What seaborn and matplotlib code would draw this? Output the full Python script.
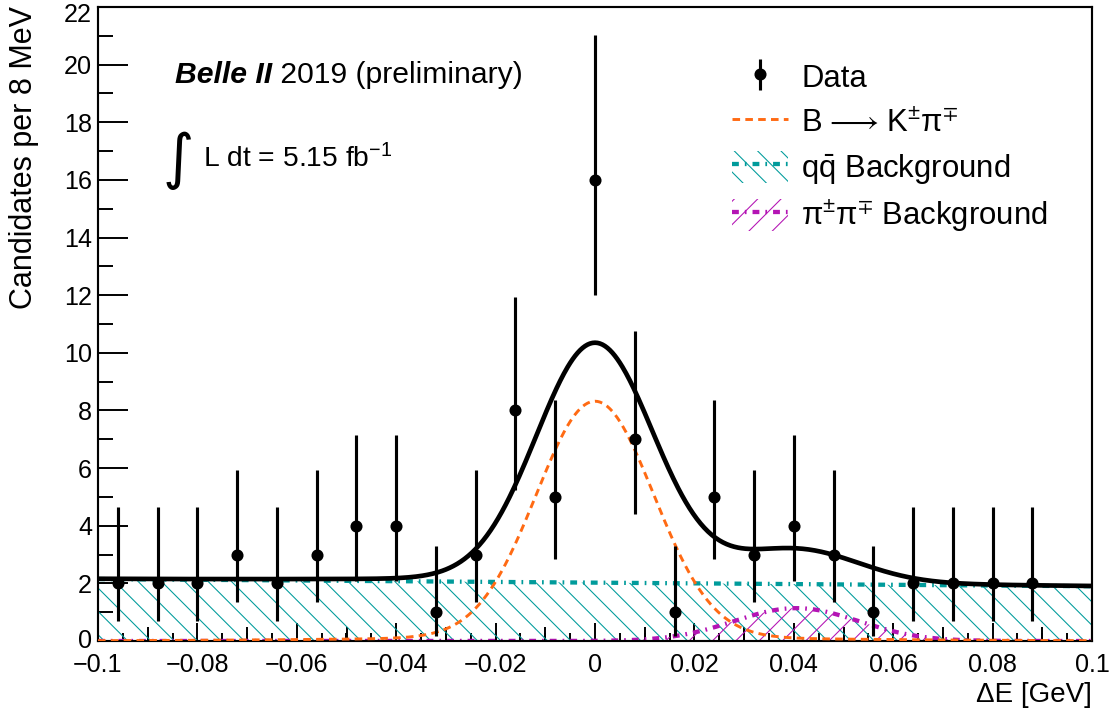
import numpy as np
import pandas as pd
import matplotlib
matplotlib.use("Agg")
import matplotlib.pyplot as plt
import matplotlib.transforms as mtransforms
import seaborn as sns
from matplotlib.patches import Patch
from matplotlib.lines import Line2D
from matplotlib.legend_handler import HandlerTuple
from matplotlib.ticker import MultipleLocator, FuncFormatter, NullFormatter

# ---------------- data ----------------
bin_centers = [-0.096, -0.088, -0.080, -0.072, -0.064, -0.056, -0.048, -0.040,
               -0.032, -0.024, -0.016, -0.008, 0.000, 0.008, 0.016, 0.024,
               0.032, 0.040, 0.048, 0.056, 0.064, 0.072, 0.080, 0.088]
counts = [2, 2, 2, 3, 2, 3, 4, 4, 1, 3, 8, 5, 16, 7, 1, 5, 3, 4, 3, 1, 2, 2, 2, 2]
err_low = [1.29, 1.29, 1.29, 1.63, 1.29, 1.63, 1.91, 1.91, 0.83, 1.63, 2.77, 2.16,
           3.99, 2.58, 0.83, 2.16, 1.63, 1.91, 1.63, 0.83, 1.29, 1.29, 1.29, 1.29]
err_high = [2.64, 2.64, 2.64, 2.92, 2.64, 2.92, 3.16, 3.16, 2.30, 2.92, 3.94, 3.38,
            5.03, 3.77, 2.30, 3.38, 2.92, 3.16, 2.92, 2.30, 2.64, 2.64, 2.64, 2.64]

# fit-component parameters
sig_core = [8.2, 0.0, 0.0118]     # amplitude, mean, sigma
sig_tail = [0.12, 0.0, 0.045]
pipi_par = [1.14, 0.0405, 0.0125]
qq_par = [2.025, -1.25]            # value at 0, slope

x_ticks = [-0.1, -0.08, -0.06, -0.04, -0.02, 0.0, 0.02, 0.04, 0.06, 0.08, 0.1]
x_mid_ticks = [-0.09, -0.07, -0.05, -0.03, -0.01, 0.01, 0.03, 0.05, 0.07, 0.09]
y_ticks = list(range(0, 23, 2))

# ---------------- model curves ----------------
def gauss(x, p):
    return p[0] * np.exp(-0.5 * ((x - p[1]) / p[2]) ** 2)

xx = np.linspace(-0.1, 0.1, 801)
sig = gauss(xx, sig_core) + gauss(xx, sig_tail)
pipi = gauss(xx, pipi_par)
qq = qq_par[0] + qq_par[1] * xx
tot = sig + pipi + qq
curves = pd.DataFrame({"x": xx, "sig": sig, "pipi": pipi, "qq": qq, "tot": tot})

# ---------------- style ----------------
sns.set_theme(style="ticks")
plt.rcParams["font.family"] = ["Liberation Sans", "DejaVu Sans"]
plt.rcParams["mathtext.fontset"] = "custom"
plt.rcParams["mathtext.rm"] = "Liberation Sans"
plt.rcParams["mathtext.it"] = "Liberation Sans:italic"
plt.rcParams["mathtext.bf"] = "Liberation Sans:bold"
plt.rcParams["mathtext.fallback"] = "stixsans"
plt.rcParams["hatch.linewidth"] = 0.55
plt.rcParams["text.color"] = "black"
plt.rcParams["axes.labelcolor"] = "black"

DPI = 140
fig = plt.figure(figsize=(1115 / DPI, 713 / DPI), dpi=DPI)
ax = fig.add_axes([98 / 1115, 1 - 641 / 713, (1092 - 98) / 1115, (641 - 7) / 713])

teal = "#009b9b"
mag = "#b414b4"
orange = "#ff6a13"

ax.fill_between(curves["x"], 0, curves["qq"], facecolor="none", edgecolor=teal,
                hatch="\\\\", linewidth=0, zorder=1)
ax.fill_between(curves["x"], 0, curves["pipi"], facecolor="none", edgecolor=mag,
                hatch="//", linewidth=0, zorder=1.2)

qq_dash = (1.6, 1.4, 0.4, 1.4)
sns.lineplot(data=curves, x="x", y="qq", ax=ax, color=teal, lw=2.2, zorder=2)
ax.lines[-1].set_dashes(qq_dash)
sns.lineplot(data=curves, x="x", y="pipi", ax=ax, color=mag, lw=2.2, zorder=2)
ax.lines[-1].set_dashes(qq_dash)
sns.lineplot(data=curves, x="x", y="sig", ax=ax, color=orange, lw=1.5, zorder=3)
ax.lines[-1].set_dashes((2.6, 1.8))
sns.lineplot(data=curves, x="x", y="tot", ax=ax, color="black", lw=2.4, zorder=4)

eb = ax.errorbar(bin_centers, counts, yerr=[err_low, err_high], fmt="o",
                 color="black", ms=5.2, elinewidth=1.6, capsize=0, zorder=5)

# ---------------- axes ----------------
ax.set_xlim(-0.1, 0.1)
ax.set_ylim(0, 22)
ax.xaxis.set_minor_locator(MultipleLocator(0.005))
ax.yaxis.set_minor_locator(MultipleLocator(1))
ax.set_xticks(x_ticks)
ax.set_yticks(y_ticks)

def xfmt(v, p):
    v = round(v, 4)
    if abs(v) < 1e-9:
        return "0"
    return f"{v:g}".replace("-", "\u2212")

ax.xaxis.set_major_formatter(FuncFormatter(xfmt))
ax.tick_params(axis="both", which="both", direction="in", labelsize=12.9,
               colors="black", labelcolor="black")
ax.tick_params(axis="x", which="major", length=9.3, width=1.0, pad=6)
ax.tick_params(axis="x", which="minor", length=4.3, width=1.0)
ax.tick_params(axis="y", which="major", length=15.4, width=1.0, pad=3)
ax.tick_params(axis="y", which="minor", length=7.7, width=1.0)
for s in ax.spines.values():
    s.set_linewidth(1.1)
    s.set_color("black")

# keep the top y label inside the figure and the bottom one clear of the x labels
ymaj = ax.yaxis.get_major_ticks()
top_lab = ymaj[-1].label1
top_lab.set_transform(top_lab.get_transform() +
                      mtransforms.ScaledTranslation(0, -5 / DPI, fig.dpi_scale_trans))
bot_lab = ymaj[0].label1
bot_lab.set_transform(bot_lab.get_transform() +
                      mtransforms.ScaledTranslation(0, 3 / DPI, fig.dpi_scale_trans))

# medium ticks at odd multiples of 0.01
sec = ax.secondary_xaxis("bottom")
sec.set_xticks(x_mid_ticks)
sec.xaxis.set_major_formatter(NullFormatter())
sec.tick_params(axis="x", which="major", direction="in", length=7.0, width=1.0, colors="black")
sec.xaxis.set_minor_locator(matplotlib.ticker.NullLocator())
sec.spines["bottom"].set_visible(False)

ax.set_xlabel("")
ax.set_ylabel("")
fig.text(1092 / 1115, 1 - 702 / 713, "\u0394E [GeV]", ha="right", va="baseline", fontsize=14.3)
fig.text(9 / 1115, 1 - 6 / 713, "Candidates per 8 MeV", rotation=90,
         ha="left", va="top", fontsize=15.7)

# ---------------- labels ----------------
t1 = fig.text(175 / 1115, 1 - 83 / 713, "Belle II", fontsize=15.5,
              fontweight="bold", fontstyle="italic", va="baseline")
ax.annotate(" 2019 (preliminary)", xy=(1, 0), xycoords=t1, va="bottom",
            fontsize=15.5)
fig.text(163 / 1115, 1 - 160 / 713, "\u222b", fontsize=31, va="center", ha="left",
         family=["DejaVu Sans"])
fig.text(203 / 1115, 1 - 167 / 713, "L dt = 5.15 fb$^{\\mathregular{-1}}$",
         fontsize=14.5, va="baseline")

# ---------------- legend ----------------
h_data = eb
h_sig = Line2D([], [], color=orange, lw=1.5, dashes=(2.6, 1.8))
h_qq = (Patch(facecolor="none", edgecolor=teal, hatch="\\\\", lw=0),
        Line2D([], [], color=teal, lw=2.2, dashes=qq_dash))
h_pp = (Patch(facecolor="none", edgecolor=mag, hatch="//", lw=0),
        Line2D([], [], color=mag, lw=2.2, dashes=qq_dash))
labels = ["Data",
          "B$\\!\\;\\longrightarrow\\!\\;$K$^{\\pm}$\u03c0$^{\\mp}$",
          "q$\\mathregular{\\bar{q}}$ Background",
          "\u03c0$^{\\pm}$\u03c0$^{\\mp}$ Background"]
leg = fig.legend([h_data, h_sig, h_qq, h_pp], labels,
                 loc="upper left", bbox_to_anchor=(732 / 1115, 1 - 61 / 713),
                 frameon=False, fontsize=16, handlelength=1.8, handleheight=1.2,
                 handletextpad=0.42, labelspacing=0.37, borderpad=0, borderaxespad=0,
                 handler_map={tuple: HandlerTuple(ndivide=1)})
for t in leg.get_texts():
    t.set_color("black")

fig.savefig("out.png", dpi=DPI)
